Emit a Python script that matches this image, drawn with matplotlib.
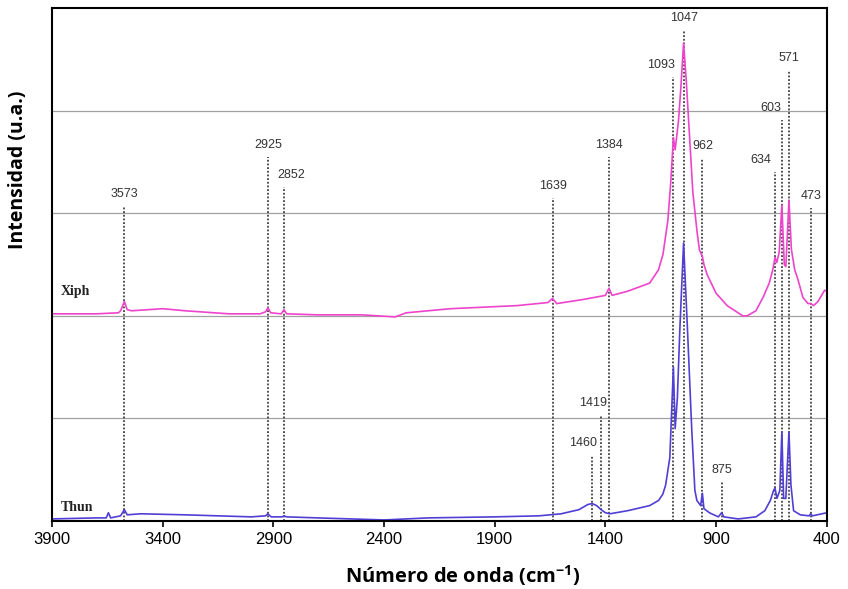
import matplotlib
matplotlib.use("Agg")
import matplotlib.pyplot as plt

# Xiph spectrum (upper trace)
xiph_wn = [3900, 3700, 3600, 3590, 3573, 3560, 3540, 3400, 3300, 3100, 2960, 2935,
           2925, 2912, 2865, 2852, 2840, 2700, 2500, 2350, 2300, 2100, 2000, 1800,
           1660, 1639, 1620, 1500, 1400, 1384, 1370, 1300, 1250, 1200, 1160, 1140,
           1118, 1105, 1093, 1085, 1070, 1060, 1047, 1035, 1020, 1005, 985, 975,
           962, 955, 940, 900, 850, 780, 760, 720, 688, 660, 644, 634, 626, 615,
           603, 592, 585, 578, 571, 560, 545, 531, 508, 485, 473, 460, 440, 410, 400]
xiph_int = [2.02, 2.02, 2.03, 2.05, 2.14, 2.06, 2.05, 2.07, 2.05, 2.02, 2.02, 2.04,
            2.08, 2.03, 2.02, 2.06, 2.02, 2.01, 2.01, 1.99, 2.03, 2.07, 2.08, 2.10,
            2.13, 2.17, 2.12, 2.16, 2.20, 2.27, 2.20, 2.24, 2.28, 2.32, 2.45, 2.60,
            2.93, 3.30, 3.74, 3.62, 3.90, 4.20, 4.66, 4.30, 3.75, 3.20, 2.80, 2.64,
            2.58, 2.50, 2.40, 2.22, 2.10, 2.00, 2.00, 2.05, 2.18, 2.32, 2.45, 2.57,
            2.52, 2.62, 3.08, 2.50, 2.48, 2.80, 3.13, 2.65, 2.45, 2.36, 2.18, 2.12,
            2.12, 2.10, 2.14, 2.25, 2.24]

# Thun spectrum (lower trace)
thun_wn = [3900, 3700, 3655, 3645, 3635, 3590, 3573, 3560, 3500, 3300, 3000, 2935,
           2925, 2910, 2860, 2852, 2840, 2700, 2400, 2200, 1900, 1700, 1600, 1520,
           1480, 1460, 1440, 1419, 1400, 1380, 1300, 1200, 1160, 1141, 1128, 1109,
           1093, 1085, 1075, 1064, 1047, 1030, 1010, 996, 987, 970, 962, 955, 930,
           890, 875, 865, 800, 720, 680, 655, 640, 634, 625, 612, 603, 595, 585,
           578, 571, 562, 550, 520, 480, 473, 465, 400]
thun_int = [0.02, 0.03, 0.03, 0.08, 0.03, 0.05, 0.11, 0.06, 0.07, 0.06, 0.04, 0.05,
            0.07, 0.04, 0.04, 0.05, 0.04, 0.03, 0.01, 0.03, 0.04, 0.05, 0.07, 0.11,
            0.16, 0.17, 0.15, 0.11, 0.08, 0.07, 0.10, 0.15, 0.20, 0.26, 0.35, 0.62,
            1.50, 0.90, 1.20, 1.86, 2.71, 1.90, 0.89, 0.30, 0.20, 0.15, 0.27, 0.12,
            0.08, 0.04, 0.08, 0.04, 0.02, 0.04, 0.10, 0.20, 0.30, 0.32, 0.22, 0.30,
            0.87, 0.22, 0.22, 0.55, 0.87, 0.35, 0.10, 0.06, 0.05, 0.07, 0.05, 0.08]

# marked bands: wavenumber, where the dotted line ends, label shift (cm-1)
band_wn = [3573, 2925, 2852, 1639, 1384, 1093, 1047, 962, 634, 603, 571, 473, 1460, 1419, 875]
band_top = [3.07, 3.55, 3.26, 3.15, 3.55, 4.33, 4.79, 3.54, 3.40, 3.91, 4.40, 3.05, 0.64, 1.03, 0.38]
label_dx = [0, 0, -32, 0, 0, 55, 0, 0, 65, 52, 0, 0, 42, 38, 0]

xticks = [3900, 3400, 2900, 2400, 1900, 1400, 900, 400]

fig = plt.figure(figsize=(8.48, 5.89), dpi=100)
ax = fig.add_axes([0.0613, 0.1155, 0.9137, 0.8705])

for y in [1, 2, 3, 4]:
    ax.axhline(y, color="#a0a0a0", linewidth=0.9, zorder=0)

for wn, top, dx in zip(band_wn, band_top, label_dx):
    ax.plot([wn, wn], [0, top], linestyle=(0, (1.2, 1.2)), color="#222222", linewidth=1.1, zorder=1)
    ax.text(wn + dx, top + 0.06, str(wn), ha="center", va="bottom", fontsize=9,
            color="#333333", family="Liberation Sans")

ax.plot(xiph_wn, xiph_int, color="#ee44cc", linewidth=1.2, zorder=2)
ax.plot(thun_wn, thun_int, color="#4f3fd6", linewidth=1.2, zorder=2)

ax.text(3860, 2.2, "Xiph", fontsize=10, fontweight="bold", family="Liberation Serif", color="#222222")
ax.text(3860, 0.1, "Thun", fontsize=10, fontweight="bold", family="Liberation Serif", color="#222222")

ax.set_xlim(3900, 400)
ax.set_ylim(0, 5)
ax.set_xticks(xticks)
ax.set_xticklabels([str(t) for t in xticks], fontsize=12,
                   family=["Liberation Sans Narrow", "Liberation Sans"])
ax.set_yticks([])
ax.tick_params(axis="x", direction="out", length=4, width=1.2, pad=4)
for s in ax.spines.values():
    s.set_linewidth(1.5)
    s.set_color("black")

ax.set_xlabel("Número de onda (cm$^{\\mathregular{-1}}$)", fontsize=14.5, fontweight="bold",
              family="Open Sans")
ax.xaxis.set_label_coords(0.53, -0.082)
ax.set_ylabel("Intensidad (u.a.)", fontsize=14, fontweight="bold", family="Open Sans")
ax.yaxis.set_label_coords(-0.031, 0.684)

fig.savefig("out.png", dpi=100)
